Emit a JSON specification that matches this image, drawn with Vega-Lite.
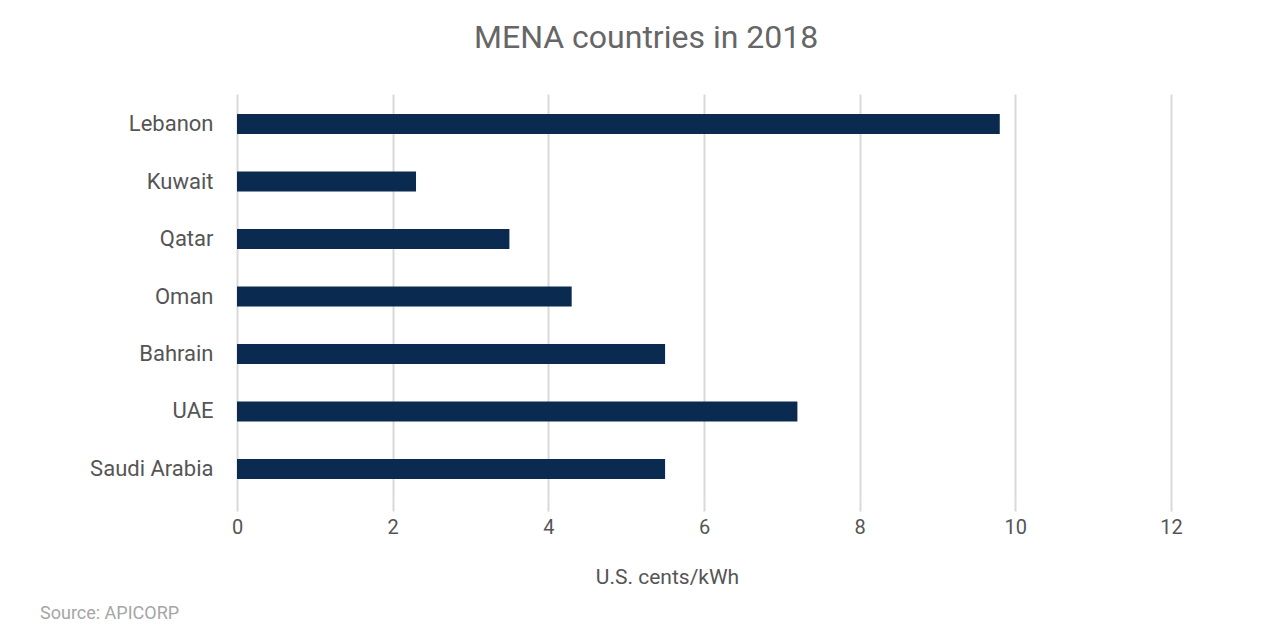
{
  "$schema": "https://vega.github.io/schema/vega-lite/v6.json",
  "padding": {"left": 40, "top": 22, "right": 60, "bottom": 5},
  "background": "white",
  "title": {
    "text": "MENA countries in 2018",
    "font": "Roboto",
    "fontSize": 32,
    "fontWeight": "normal",
    "color": "#666666",
    "anchor": "middle",
    "dx": 35,
    "offset": 39
  },
  "data": {
    "values": [
      {"country": "Lebanon", "value": 9.8},
      {"country": "Kuwait", "value": 2.3},
      {"country": "Qatar", "value": 3.5},
      {"country": "Oman", "value": 4.3},
      {"country": "Bahrain", "value": 5.5},
      {"country": "UAE", "value": 7.2},
      {"country": "Saudi Arabia", "value": 5.5}
    ]
  },
  "vconcat": [
    {
      "title": {
        "text": "Source: APICORP",
        "orient": "bottom",
        "anchor": "start",
        "frame": "group",
        "dx": -197,
        "font": "Roboto",
        "fontSize": 18,
        "fontWeight": "normal",
        "color": "#a6a6a6",
        "offset": 18
      },
      "width": 934,
      "height": 405,
      "mark": {"type": "bar", "color": "#0a2a4f"},
      "encoding": {
        "y": {
          "field": "country",
          "type": "nominal",
          "sort": null,
          "scale": {"paddingInner": 0.652, "paddingOuter": 0.348},
          "axis": {
            "title": null,
            "domain": false,
            "ticks": false,
            "labelPadding": 24,
            "labelFont": "Roboto",
            "labelFontSize": 22,
            "labelColor": "#555555"
          }
        },
        "x": {
          "field": "value",
          "type": "quantitative",
          "scale": {"domain": [0, 12], "nice": false},
          "axis": {
            "values": [0, 2, 4, 6, 8, 10, 12],
            "title": "U.S. cents/kWh",
            "titleFont": "Roboto",
            "titleFontSize": 21,
            "titleFontWeight": "normal",
            "titleColor": "#555555",
            "titlePadding": 29,
            "titleX": 430,
            "domain": false,
            "ticks": true,
            "tickSize": 12,
            "tickColor": "#d9d9d9",
            "tickWidth": 2,
            "grid": true,
            "gridColor": "#d9d9d9",
            "gridWidth": 2,
            "labelFlush": false,
            "labelPadding": 6,
            "labelFont": "Roboto",
            "labelFontSize": 20,
            "labelColor": "#555555"
          }
        }
      }
    }
  ],
  "config": {"view": {"stroke": null}}
}
